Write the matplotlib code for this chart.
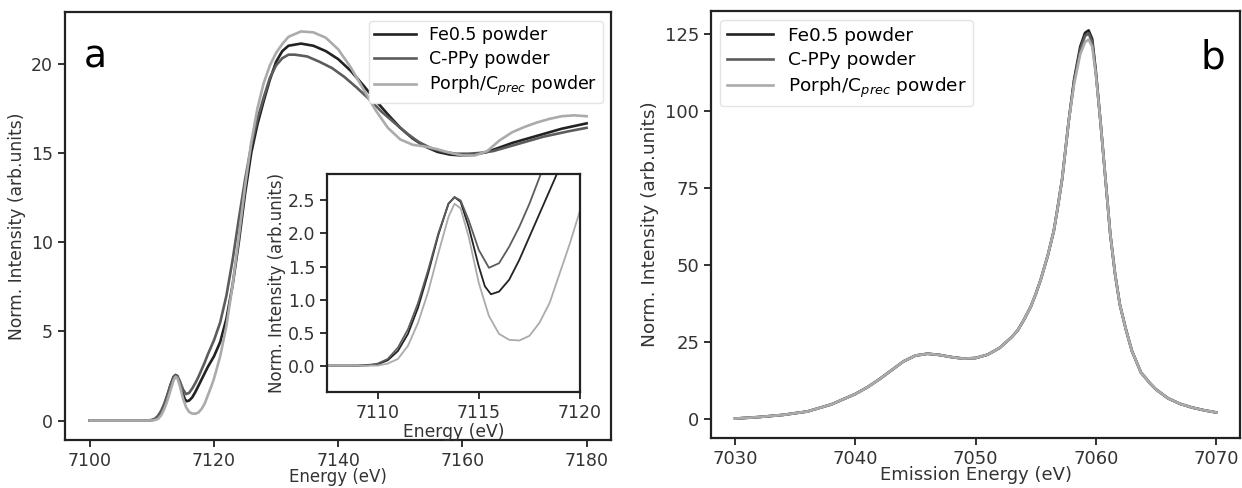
import matplotlib
matplotlib.use('Agg')
import matplotlib.pyplot as plt

plt.rcParams['font.family'] = ['DejaVu Sans']

labels = ['Fe0.5 powder', 'C-PPy powder', r'Porph/C$_{prec}$ powder']
colors = ['#222222', '#5c5c5c', '#ababab']

# XANES (panel a + inset)
fe_x = [7100, 7105, 7109, 7110, 7110.5, 7111, 7111.5, 7112, 7112.5, 7113, 7113.5, 7113.8, 7114.1, 7114.5,
        7115, 7115.3, 7115.6, 7116, 7116.5, 7117, 7117.5, 7118, 7118.5, 7119, 7120, 7121, 7122, 7123,
        7124, 7125, 7126, 7127, 7128, 7129, 7130, 7131, 7132, 7134, 7136, 7138, 7140, 7142, 7144, 7146,
        7148, 7150, 7152, 7154, 7156, 7158, 7160, 7162, 7164, 7166, 7168, 7170, 7172, 7174, 7176, 7178, 7180]
fe_y = [0, 0, 0, 0.02, 0.08, 0.22, 0.48, 0.88, 1.4, 1.98, 2.45, 2.55, 2.48, 2.1,
        1.5, 1.2, 1.08, 1.12, 1.3, 1.6, 1.95, 2.3, 2.65, 3.0, 3.6, 4.4, 5.7, 7.6,
        10.0, 12.7, 15.0, 16.6, 17.9, 19.1, 20.1, 20.7, 21.0, 21.12, 21.0, 20.7, 20.25, 19.6, 18.8, 17.95,
        17.15, 16.4, 15.8, 15.35, 15.05, 14.9, 14.85, 14.9, 15.05, 15.3, 15.55, 15.75, 15.95, 16.15, 16.35, 16.5, 16.65]

cppy_x = [7100, 7105, 7109.5, 7110, 7110.5, 7111, 7111.5, 7112, 7112.5, 7113, 7113.5, 7113.8, 7114.1, 7114.5,
          7115, 7115.5, 7116, 7116.5, 7117, 7117.5, 7118, 7118.5, 7119, 7120, 7121, 7122, 7123, 7124,
          7125, 7126, 7127, 7128, 7129, 7130, 7131, 7132, 7133, 7135, 7137, 7139, 7141, 7143, 7145, 7147,
          7149, 7151, 7153, 7155, 7157, 7159, 7161, 7163, 7165, 7167, 7169, 7171, 7173, 7175, 7177, 7180]
cppy_y = [0, 0, 0, 0.03, 0.1, 0.27, 0.55, 0.95, 1.45, 2.0, 2.45, 2.55, 2.5, 2.2,
          1.75, 1.48, 1.55, 1.8, 2.1, 2.45, 2.85, 3.25, 3.7, 4.5, 5.5, 7.0, 9.0, 11.3,
          13.5, 15.4, 16.9, 18.1, 19.2, 19.9, 20.3, 20.5, 20.5, 20.4, 20.1, 19.75, 19.25, 18.65, 18.0, 17.3,
          16.7, 16.1, 15.6, 15.25, 15.05, 14.95, 14.95, 15.0, 15.1, 15.3, 15.5, 15.7, 15.9, 16.05, 16.2, 16.4]

porph_x = [7100, 7105, 7110, 7110.5, 7111, 7111.5, 7112, 7112.5, 7113, 7113.5, 7113.8, 7114.1, 7114.5,
           7115, 7115.5, 7116, 7116.5, 7117, 7117.5, 7118, 7118.5, 7119, 7119.5, 7120, 7121, 7122, 7123,
           7124, 7125, 7126, 7127, 7128, 7129, 7130, 7131, 7132, 7134, 7136, 7138, 7140, 7142, 7144, 7146,
           7148, 7150, 7152, 7154, 7156, 7158, 7160, 7162, 7164, 7166, 7168, 7170, 7172, 7174, 7176, 7178, 7180]
porph_y = [0, 0, 0, 0.03, 0.1, 0.3, 0.65, 1.12, 1.7, 2.25, 2.45, 2.38, 1.95,
           1.25, 0.75, 0.48, 0.39, 0.38, 0.45, 0.65, 0.95, 1.4, 1.85, 2.35, 3.6, 5.3, 7.6,
           10.3, 13.1, 15.6, 17.5, 18.9, 19.9, 20.6, 21.1, 21.5, 21.8, 21.75, 21.45, 20.8, 19.8, 18.6, 17.4,
           16.4, 15.75, 15.45, 15.35, 15.2, 15.0, 14.85, 14.85, 15.1, 15.7, 16.15, 16.45, 16.7, 16.9, 17.05, 17.1, 17.05]

# XES (panel b)
xes_x = [7030, 7032, 7034, 7036, 7038, 7040, 7041, 7042, 7043, 7044, 7045, 7046, 7047, 7048, 7049, 7050,
         7051, 7052, 7053, 7053.5, 7054, 7054.6, 7055, 7055.4, 7056, 7056.5, 7056.8, 7057.2, 7057.75, 7058.2,
         7058.7, 7059.1, 7059.4, 7059.7, 7060, 7060.4, 7060.8, 7061.2, 7061.6, 7062, 7062.5, 7063, 7063.75,
         7064.5, 7065, 7066, 7067, 7068, 7069, 7070]
xes_fe = [0, 0.5, 1.2, 2.3, 4.6, 8.0, 10.2, 12.8, 15.7, 18.6, 20.5, 21.1, 20.7, 20.0, 19.5, 19.7,
          20.8, 23.0, 26.5, 28.7, 32.0, 36.5, 40.5, 45.0, 53.0, 61.0, 68.0, 78.0, 97.0, 110.5,
          121.0, 125.5, 126.3, 123.5, 113.0, 96.0, 78.0, 60.0, 47.0, 37.0, 29.0, 22.0, 15.0,
          11.5, 9.5, 6.6, 4.8, 3.6, 2.7, 2.0]
xes_cppy = [0, 0.5, 1.2, 2.3, 4.6, 8.0, 10.2, 12.8, 15.7, 18.6, 20.5, 21.1, 20.7, 20.0, 19.5, 19.7,
            20.8, 23.0, 26.5, 28.7, 32.0, 36.5, 40.5, 45.0, 53.0, 61.0, 68.0, 78.0, 97.0, 110.0,
            120.0, 124.5, 125.3, 122.5, 112.5, 96.0, 78.0, 60.0, 47.0, 37.0, 29.0, 22.0, 15.0,
            11.5, 9.5, 6.6, 4.8, 3.6, 2.7, 2.0]
xes_porph = [0, 0.5, 1.2, 2.3, 4.6, 8.0, 10.2, 12.8, 15.7, 18.6, 20.5, 21.1, 20.7, 20.0, 19.5, 19.7,
             20.8, 23.0, 26.5, 28.7, 32.0, 36.5, 40.5, 45.0, 53.0, 61.0, 68.0, 78.0, 97.0, 109.0,
             118.5, 122.5, 123.3, 121.0, 112.0, 96.0, 78.0, 60.0, 47.0, 37.0, 29.0, 22.0, 15.0,
             11.5, 9.5, 6.6, 4.8, 3.6, 2.7, 2.0]

xanes = [(fe_x, fe_y), (cppy_x, cppy_y), (porph_x, porph_y)]
xes = [xes_fe, xes_cppy, xes_porph]

fig = plt.figure(figsize=(12.42, 4.88), dpi=100)
ax1 = fig.add_axes([0.0523, 0.0984, 0.440, 0.877])
ax2 = fig.add_axes([0.5725, 0.1025, 0.426, 0.875])
axin = fig.add_axes([0.2633, 0.1967, 0.2037, 0.4467])

for (x, y), c, lab in zip(xanes, colors, labels):
    ax1.plot(x, y, color=c, lw=1.9, label=lab)
    axin.plot(x, y, color=c, lw=1.3)

for y, c, lab in zip(xes, colors, labels):
    ax2.plot(xes_x, y, color=c, lw=1.9, label=lab)

ax1.set_xticks([7100, 7120, 7140, 7160, 7180])
ax1.set_yticks([0, 5, 10, 15, 20])
ax1.set_xlabel('Energy (eV)', fontsize=12, labelpad=-1)
ax1.set_ylabel('Norm. Intensity (arb.units)', fontsize=12.3)
ax1.legend(loc='upper right', fontsize=12.5, handlelength=2.4, framealpha=1, edgecolor='#e4e4e4',
           borderpad=0.3, labelspacing=0.35)
ax1.text(0.035, 0.893, 'a', transform=ax1.transAxes, fontsize=27, va='center', ha='left')

axin.set_xlim(7107.5, 7120)
axin.set_ylim(-0.4, 2.9)
axin.set_xticks([7110, 7115, 7120])
axin.set_yticks([0.0, 0.5, 1.0, 1.5, 2.0, 2.5])
axin.set_xlabel('Energy (eV)', fontsize=12.3, labelpad=1)
axin.set_ylabel('Norm. Intensity (arb.units)', fontsize=12, labelpad=1)

ax2.set_xticks([7030, 7040, 7050, 7060, 7070])
ax2.set_yticks([0, 25, 50, 75, 100, 125])
ax2.set_xlabel('Emission Energy (eV)', fontsize=13, labelpad=-1)
ax2.set_ylabel('Norm. Intensity (arb.units)', fontsize=13.3)
ax2.legend(loc='upper left', fontsize=13.3, handlelength=2.5, framealpha=1, edgecolor='#e4e4e4',
           borderpad=0.35, labelspacing=0.35)
ax2.text(0.972, 0.89, 'b', transform=ax2.transAxes, fontsize=28, va='center', ha='right')

for ax in [ax1, axin]:
    ax.tick_params(labelsize=12.5, width=1.3, length=5, color='#222222', labelcolor='#333333')
ax2.tick_params(labelsize=13, width=1.3, length=5, color='#222222', labelcolor='#333333')

for ax in [ax1, ax2, axin]:
    ax.xaxis.label.set_color('#333333')
    ax.yaxis.label.set_color('#333333')
    for s in ax.spines.values():
        s.set_linewidth(1.6)
        s.set_color('#222222')

fig.savefig('out.png', dpi=100)
